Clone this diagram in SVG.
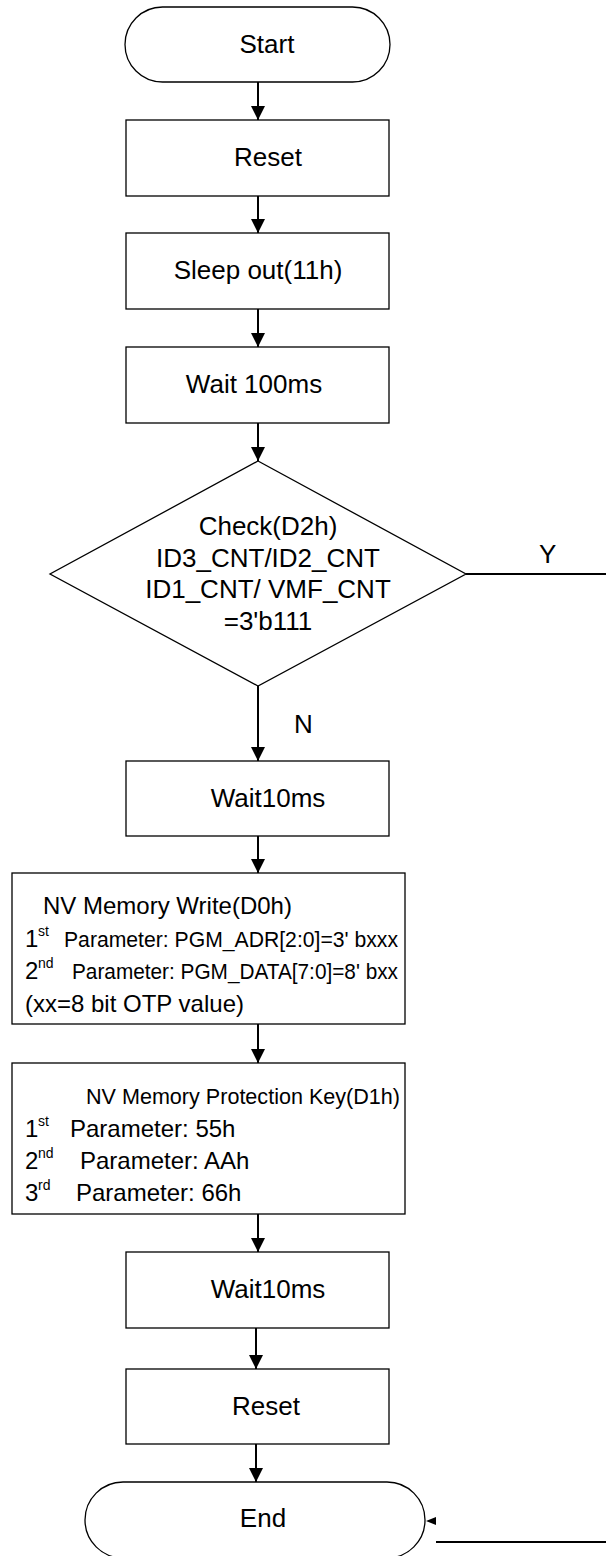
<svg xmlns="http://www.w3.org/2000/svg" width="606" height="1556" viewBox="0 0 606 1556">
<defs>
<style>
.shape{fill:#fff;stroke:#000;stroke-width:1.3}
.t{font-family:"Liberation Sans",Arial,sans-serif;font-size:26px;fill:#000}
.n{font-size:24px}
.m{font-size:21.5px}
.c{text-anchor:middle}
.sup{font-size:14px}
.conn line{stroke:#000;stroke-width:2;fill:none}
</style>
<marker id="ah" markerUnits="userSpaceOnUse" markerWidth="14" markerHeight="16" refX="14" refY="8" orient="auto">
<path d="M0,1 L14,8 L0,15 Z" fill="#000"/>
</marker>
<marker id="ahs" markerUnits="userSpaceOnUse" markerWidth="10" markerHeight="10" refX="10" refY="5" orient="auto">
<path d="M0,1 L10,5 L0,9 Z" fill="#000"/>
</marker>
</defs>
<rect width="606" height="1556" fill="#fff"/>
<g id="start">
<rect class="shape" x="125" y="7" width="265" height="75" rx="37.5" ry="37.5"/>
<text class="t c" x="267" y="53">Start</text>
</g>
<g id="reset1">
<rect class="shape" x="126" y="120" width="263" height="76"/>
<text class="t c" x="268" y="166">Reset</text>
</g>
<g id="sleepout">
<rect class="shape" x="126" y="233" width="263" height="76"/>
<text class="t c" x="258" y="279">Sleep out(11h)</text>
</g>
<g id="wait100">
<rect class="shape" x="126" y="347" width="263" height="76"/>
<text class="t c" x="254" y="393">Wait 100ms</text>
</g>
<g id="check">
<polygon class="shape" points="258,461 466,574 258,686 50,574"/>
<text class="t c" x="268" y="535">Check(D2h)</text>
<text class="t c" x="268" y="567">ID3_CNT/ID2_CNT</text>
<text class="t c" x="268" y="598">ID1_CNT/ VMF_CNT</text>
<text class="t c" x="268" y="630">=3'b111</text>
</g>
<g id="wait10a">
<rect class="shape" x="126" y="761" width="263" height="75"/>
<text class="t c" x="268" y="807">Wait10ms</text>
</g>
<g id="nvwrite">
<rect class="shape" x="12" y="873" width="393" height="151"/>
<text class="t n" x="43" y="914">NV Memory Write(D0h)</text>
<text class="t n" x="25" y="947">1</text><text class="t sup" x="38" y="936">st</text>
<text class="t m" x="64" y="947" textLength="334" lengthAdjust="spacingAndGlyphs">Parameter: PGM_ADR[2:0]=3' bxxx</text>
<text class="t n" x="25" y="979">2</text><text class="t sup" x="38" y="968">nd</text>
<text class="t m" x="72" y="979" textLength="326" lengthAdjust="spacingAndGlyphs">Parameter: PGM_DATA[7:0]=8' bxx</text>
<text class="t n" x="25" y="1012">(xx=8  bit OTP value)</text>
</g>
<g id="nvprotect">
<rect class="shape" x="12" y="1063" width="393" height="151"/>
<text class="t m" x="86" y="1104" textLength="314" lengthAdjust="spacingAndGlyphs">NV Memory Protection Key(D1h)</text>
<text class="t n" x="25" y="1137">1</text><text class="t sup" x="38" y="1126">st</text>
<text class="t n" x="70" y="1137">Parameter: 55h</text>
<text class="t n" x="25" y="1169">2</text><text class="t sup" x="38" y="1158">nd</text>
<text class="t n" x="80" y="1169">Parameter: AAh</text>
<text class="t n" x="25" y="1201">3</text><text class="t sup" x="38" y="1190">rd</text>
<text class="t n" x="76" y="1201">Parameter: 66h</text>
</g>
<g id="wait10b">
<rect class="shape" x="126" y="1252" width="263" height="76"/>
<text class="t c" x="268" y="1298">Wait10ms</text>
</g>
<g id="reset2">
<rect class="shape" x="126" y="1369" width="263" height="75"/>
<text class="t c" x="266" y="1415">Reset</text>
</g>
<g id="end">
<rect class="shape" x="85" y="1482" width="340" height="76" rx="38" ry="38"/>
<text class="t c" x="263" y="1527">End</text>
</g>
<g class="conn" id="connectors">
<line x1="258" y1="82" x2="258" y2="120" marker-end="url(#ah)"/>
<line x1="258" y1="196" x2="258" y2="233" marker-end="url(#ah)"/>
<line x1="258" y1="309" x2="258" y2="347" marker-end="url(#ah)"/>
<line x1="258" y1="423" x2="258" y2="461" marker-end="url(#ah)"/>
<line x1="466" y1="574" x2="606" y2="574"/>
<text class="t" x="539" y="563">Y</text>
<line x1="258" y1="686" x2="258" y2="761" marker-end="url(#ah)"/>
<text class="t" x="294" y="733">N</text>
<line x1="258" y1="836" x2="258" y2="873" marker-end="url(#ah)"/>
<line x1="258" y1="1024" x2="258" y2="1063" marker-end="url(#ah)"/>
<line x1="258" y1="1214" x2="258" y2="1252" marker-end="url(#ah)"/>
<line x1="256" y1="1328" x2="256" y2="1369" marker-end="url(#ah)"/>
<line x1="256" y1="1444" x2="256" y2="1482" marker-end="url(#ah)"/>
<line x1="436" y1="1542" x2="606" y2="1542"/>
<line x1="436" y1="1521" x2="426" y2="1521" style="stroke:none" marker-end="url(#ahs)"/>
</g>
</svg>
